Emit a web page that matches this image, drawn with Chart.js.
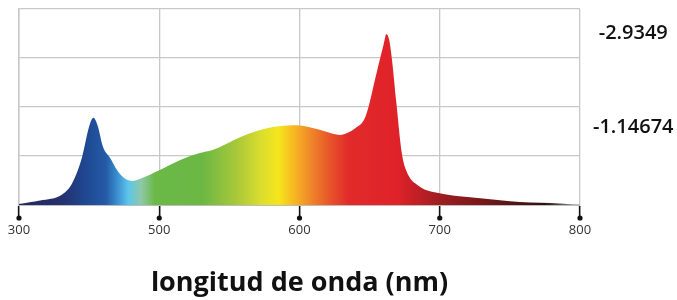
<!DOCTYPE html>
<html>
<head>
<meta charset="utf-8">
<script src="https://cdn.jsdelivr.net/npm/chart.js@4/dist/chart.umd.min.js"></script>
<style>
  html, body { margin: 0; padding: 0; background: #fff; }
  #wrap { width: 677px; height: 300px; }
</style>
</head>
<body>
<div id="wrap"><canvas id="spectrum"></canvas></div>
<script>
// wavelength (nm) and relative intensity
const wavelengths = [400, 415, 431, 438, 445, 450, 453, 456, 460, 465, 470, 475, 481, 486, 500, 515, 529, 538, 558, 581, 598, 615, 629, 634, 640, 647, 655, 660, 662, 664, 666, 669, 673, 676, 685, 700, 714, 729, 757, 786, 800];
const intensity = [0.02, 0.09, 0.22, 0.45, 0.98, 1.6, 1.78, 1.63, 1.18, 0.96, 0.71, 0.55, 0.49, 0.53, 0.71, 0.92, 1.06, 1.12, 1.39, 1.59, 1.63, 1.53, 1.43, 1.47, 1.57, 1.8, 2.7, 3.28, 3.49, 3.36, 2.95, 2.1, 1.05, 0.71, 0.39, 0.24, 0.18, 0.14, 0.06, 0.03, 0.0];

// x axis ticks (first one is labelled 300 in the original)
const xTickValues = [400, 500, 600, 700, 800];
const xTickLabels = ["300", "500", "600", "700", "800"];

// labels on the right hand side
const rightTickValues = [1.59, 3.51];
const rightTickLabels = ["-1.14674", "-2.9349"];

// colour of the spectrum at a given wavelength
const spectrumStops = [
    [400, "#232a5c"], [430, "#24306e"], [450, "#1f4b95"], [462, "#245aa6"],
    [470, "#3a8fd0"], [478, "#5cc6ea"], [487, "#8fc8a8"], [497, "#6bb946"],
    [530, "#6ab744"], [555, "#a8c83a"], [572, "#d9dd2e"], [585, "#f5e61c"],
    [597, "#f7b423"], [606, "#f08f2a"], [620, "#e85a2a"], [635, "#e22a2a"],
    [670, "#df2229"], [700, "#9e1d22"], [740, "#6a1618"], [775, "#2e1010"],
    [792, "#777"], [800, "#ddd"],
];

const xTitle = "longitud de onda (nm)";

function spectrumFill(context) {
    const { ctx, chartArea } = context.chart;
    if (!chartArea) return null;
    const g = ctx.createLinearGradient(chartArea.left, 0, chartArea.right, 0);
    for (const [nm, c] of spectrumStops) {
        g.addColorStop((nm - 400) / 400, c);
    }
    return g;
}

// little dots at the end of the x tick marks
const tickDots = {
    id: "tickDots",
    afterDraw(chart) {
        const ctx = chart.ctx;
        const xs = chart.scales.x;
        const y = chart.chartArea.bottom + 13;
        ctx.save();
        ctx.fillStyle = "#111";
        for (const v of xTickValues) {
            ctx.beginPath();
            ctx.arc(xs.getPixelForValue(v), y, 2.6, 0, Math.PI * 2);
            ctx.fill();
        }
        ctx.restore();
    },
};

const data = {
    datasets: [
        {
            data: wavelengths.map((w, i) => ({ x: w, y: intensity[i] })),
            borderWidth: 0,
            borderColor: "rgba(0,0,0,0)",
            backgroundColor: spectrumFill,
            fill: "origin",
            pointRadius: 0,
            cubicInterpolationMode: "monotone",
        },
    ],
};

const config = {
    type: "line",
    data,
    options: {
        responsive: true,
        maintainAspectRatio: false,
        animation: false,
        layout: { padding: { top: 9, left: 0, right: 0, bottom: 0 } },
        plugins: { legend: { display: false }, tooltip: { enabled: false } },
        scales: {
            x: {
                type: "linear",
                min: 400,
                max: 800,
                afterBuildTicks: (scale) => {
                    scale.ticks = xTickValues.map((v) => ({ value: v }));
                },
                afterFit: (scale) => {
                    scale.height = 95;
                    scale.paddingLeft = 0;
                    scale.paddingRight = 0;
                },
                ticks: {
                    callback: (v, i) => xTickLabels[i],
                    color: "#333",
                    font: { family: "Open Sans", size: 13 },
                    padding: 4,
                    maxRotation: 0,
                },
                grid: {
                    color: "#c8c8c8",
                    lineWidth: 1.3,
                    tickColor: "#111",
                    tickLength: 13,
                    tickWidth: 1.6,
                },
                border: { color: "#bdbdbd", width: 2 },
                title: {
                    display: true,
                    text: xTitle,
                    color: "#111",
                    font: { family: "Open Sans", size: 27, weight: "bold" },
                    padding: { top: 0, bottom: 0 },
                },
            },
            y: {
                min: 0,
                max: 4,
                afterFit: (scale) => {
                    scale.width = 19;
                    scale.paddingTop = 0;
                    scale.paddingBottom = 0;
                },
                ticks: { display: false, stepSize: 1 },
                grid: { color: "#c8c8c8", lineWidth: 1.3, drawTicks: false },
                border: { color: "#c8c8c8", width: 1.5 },
            },
            yRight: {
                position: "right",
                min: 0,
                max: 4,
                afterBuildTicks: (scale) => {
                    scale.ticks = rightTickValues.map((v) => ({ value: v }));
                },
                afterFit: (scale) => {
                    scale.width = 97;
                    scale.paddingTop = 0;
                    scale.paddingBottom = 0;
                },
                ticks: {
                    callback: (v, i) => rightTickLabels[i],
                    color: "#111",
                    crossAlign: "center",
                    padding: 13,
                    font: { family: "Open Sans", size: 20, weight: "600" },
                },
                grid: { display: false, drawTicks: false },
                border: { display: false },
            },
        },
    },
    plugins: [tickDots],
};

var spectrumChart = new Chart(document.getElementById("spectrum"), config);
</script>
</body>
</html>
